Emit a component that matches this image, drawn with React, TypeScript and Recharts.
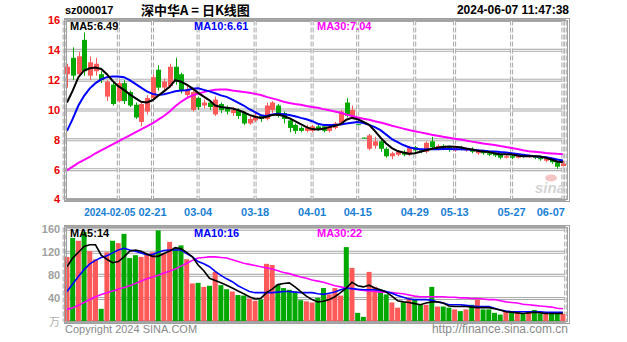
import React from 'react';
import { ComposedChart, Bar, Line, XAxis, YAxis, CartesianGrid, Cell } from 'recharts';

const FONT = '"Liberation Sans", Arial, sans-serif';
const RED = '#ff5a5a';
const GREEN = '#00a800';

// trading days shown in the chart
const dates = [
  '2024-01-23', '2024-01-24', '2024-01-25', '2024-01-26', '2024-01-29', '2024-01-30', '2024-01-31',
  '2024-02-01', '2024-02-02', '2024-02-05', '2024-02-06', '2024-02-07', '2024-02-08', '2024-02-19',
  '2024-02-20', '2024-02-21', '2024-02-22', '2024-02-23', '2024-02-26', '2024-02-27', '2024-02-28',
  '2024-02-29', '2024-03-01', '2024-03-04', '2024-03-05', '2024-03-06', '2024-03-07', '2024-03-08',
  '2024-03-11', '2024-03-12', '2024-03-13', '2024-03-14', '2024-03-15', '2024-03-18', '2024-03-19',
  '2024-03-20', '2024-03-21', '2024-03-22', '2024-03-25', '2024-03-26', '2024-03-27', '2024-03-28',
  '2024-03-29', '2024-04-01', '2024-04-02', '2024-04-03', '2024-04-08', '2024-04-09', '2024-04-10',
  '2024-04-11', '2024-04-12', '2024-04-15', '2024-04-16', '2024-04-17', '2024-04-18', '2024-04-19',
  '2024-04-22', '2024-04-23', '2024-04-24', '2024-04-25', '2024-04-26', '2024-04-29', '2024-04-30',
  '2024-05-06', '2024-05-07', '2024-05-08', '2024-05-09', '2024-05-10', '2024-05-13', '2024-05-14',
  '2024-05-15', '2024-05-16', '2024-05-17', '2024-05-20', '2024-05-21', '2024-05-22', '2024-05-23',
  '2024-05-24', '2024-05-27', '2024-05-28', '2024-05-29', '2024-05-30', '2024-05-31', '2024-06-03',
  '2024-06-04', '2024-06-05', '2024-06-06', '2024-06-07',
];

const open = [
  12.4, 13.5, 12.4, 14.7, 12.3, 12.6, 12.4, 10.9, 11.7, 10.6, 11.8, 11.2, 10.35, 9.2, 9.9, 10.8,
  12.7, 11.5, 11.6, 12.9, 12.4, 11.0, 10.0, 10.8, 10.3, 10.5, 9.7, 10.4, 10.2, 9.8, 10.0, 9.8,
  9.1, 9.3, 9.6, 9.4, 10.0, 10.3, 9.8, 9.3, 9.0, 8.8, 8.6, 8.6, 8.9, 8.9, 8.6, 8.8,
  9.1, 10.5, 9.6, 9.05, 8.15, 7.4, 7.6, 7.9, 7.4, 6.9, 7.0, 7.2, 7.0, 7.5, 7.3, 7.2,
  7.9, 7.4, 7.6, 7.5, 7.3, 7.5, 7.3, 7.4, 7.1, 7.3, 7.1, 7.1, 7.0, 6.8, 6.9, 6.8,
  7.0, 6.85, 6.9, 6.8, 6.6, 6.7, 6.5, 6.25,
];
const close = [
  12.9, 12.3, 13.6, 12.6, 13.2, 13.1, 12.0, 11.9, 10.4, 11.8, 10.6, 10.3, 9.5, 10.4, 10.8, 12.2,
  11.5, 11.9, 12.9, 11.9, 11.3, 11.4, 11.2, 10.2, 10.5, 10.2, 10.7, 10.0, 9.9, 10.0, 9.6, 9.1,
  9.4, 9.6, 9.4, 10.3, 10.5, 9.6, 9.4, 8.8, 8.6, 8.6, 8.8, 8.9, 8.7, 8.6, 8.9, 9.1,
  9.9, 9.6, 10.0, 9.0, 8.1, 8.3, 7.9, 7.4, 6.9, 7.1, 7.2, 7.0, 7.5, 7.3, 7.2, 7.8,
  7.5, 7.6, 7.4, 7.35, 7.5, 7.4, 7.45, 7.2, 7.3, 7.1, 7.0, 6.95, 6.8, 6.9, 6.8, 7.0,
  6.85, 6.95, 6.8, 6.7, 6.75, 6.5, 6.2, 6.4,
];
const high = [
  13.1, 14.2, 13.9, 15.2, 13.6, 13.5, 12.6, 12.0, 11.9, 12.0, 12.0, 11.3, 10.5, 10.5, 11.0, 12.4,
  13.0, 12.1, 13.1, 13.5, 12.5, 11.6, 11.3, 10.9, 10.7, 10.6, 10.9, 10.5, 10.3, 10.2, 10.1, 9.9,
  9.6, 9.8, 9.7, 10.5, 10.6, 10.4, 9.9, 9.4, 9.1, 8.9, 9.0, 9.0, 9.0, 9.0, 9.0, 9.2,
  10.0, 10.8, 10.3, 9.05, 8.15, 8.4, 8.2, 8.0, 7.5, 7.2, 7.3, 7.3, 7.6, 7.6, 7.4, 7.9,
  8.2, 7.7, 7.7, 7.6, 7.6, 7.6, 7.5, 7.5, 7.4, 7.35, 7.2, 7.15, 7.05, 7.0, 7.0, 7.1,
  7.05, 7.0, 6.95, 6.85, 6.8, 6.75, 6.55, 6.6,
];
const low = [
  11.5, 12.0, 12.2, 12.3, 12.0, 12.3, 11.8, 10.6, 10.3, 10.5, 10.4, 10.2, 9.4, 8.9, 9.7, 10.7,
  11.3, 11.2, 11.5, 11.7, 11.1, 10.8, 9.9, 10.0, 10.1, 10.0, 9.6, 9.8, 9.7, 9.6, 9.4, 9.0,
  9.0, 9.2, 9.2, 9.3, 9.8, 9.5, 9.1, 8.5, 8.4, 8.5, 8.5, 8.5, 8.6, 8.5, 8.5, 8.7,
  9.0, 9.5, 9.5, 9.0, 8.1, 7.3, 7.4, 7.2, 6.8, 6.7, 6.9, 6.9, 6.9, 7.2, 7.1, 7.1,
  7.4, 7.3, 7.3, 7.2, 7.2, 7.3, 7.2, 7.1, 7.0, 7.0, 6.9, 6.85, 6.7, 6.75, 6.7, 6.75,
  6.8, 6.8, 6.7, 6.6, 6.5, 6.4, 6.05, 6.2,
];

const ma5 = [
  10.5, 11.3, 12.2, 12.65, 12.8, 12.85, 12.75, 12.4, 11.95, 11.6, 11.35, 11.05, 10.8, 10.55, 10.5, 10.65,
  10.95, 11.25, 11.55, 12.0, 11.9, 11.7, 11.45, 11.15, 10.9, 10.65, 10.3, 10.2, 10.15, 10.1, 10.0, 9.85,
  9.67, 9.55, 9.47, 9.55, 9.67, 9.7, 9.6, 9.45, 9.25, 9.05, 8.85, 8.72, 8.7, 8.75, 8.85, 8.95,
  9.05, 9.35, 9.47, 9.38, 9.2, 9.0, 8.6, 8.15, 7.75, 7.45, 7.25, 7.15, 7.07, 7.1, 7.2, 7.3,
  7.4, 7.47, 7.52, 7.56, 7.54, 7.5, 7.42, 7.35, 7.27, 7.22, 7.18, 7.1, 7.03, 7.03, 7.02, 6.95,
  6.9, 6.9, 6.9, 6.88, 6.8, 6.68, 6.55, 6.49,
];
const ma10 = [
  8.6, 9.4, 10.3, 10.95, 11.45, 11.8, 12.05, 12.2, 12.25, 12.25, 12.2, 12.0, 11.75, 11.5, 11.25, 11.08,
  11.0, 11.05, 11.15, 11.25, 11.3, 11.32, 11.42, 11.45, 11.35, 11.25, 11.12, 10.98, 10.88, 10.7, 10.5, 10.3,
  10.05, 9.85, 9.65, 9.6, 9.7, 9.75, 9.72, 9.67, 9.58, 9.47, 9.38, 9.25, 9.08, 9.0, 9.0, 9.0,
  9.02, 9.1, 9.15, 9.2, 9.12, 9.0, 8.85, 8.65, 8.35, 8.05, 7.85, 7.65, 7.5, 7.42, 7.37, 7.37,
  7.37, 7.37, 7.38, 7.38, 7.37, 7.37, 7.36, 7.33, 7.3, 7.27, 7.24, 7.22, 7.18, 7.15, 7.1, 7.05,
  7.0, 6.95, 6.9, 6.87, 6.83, 6.76, 6.68, 6.61,
];
const ma30 = [
  5.95, 6.2, 6.45, 6.65, 6.85, 7.1, 7.3, 7.5, 7.7, 7.9, 8.1, 8.3, 8.5, 8.7, 8.9, 9.1,
  9.35, 9.6, 9.9, 10.25, 10.55, 10.8, 10.98, 11.1, 11.2, 11.3, 11.36, 11.38, 11.37, 11.3, 11.25, 11.2,
  11.15, 11.08, 11.0, 10.88, 10.78, 10.68, 10.55, 10.47, 10.4, 10.35, 10.27, 10.2, 10.15, 10.06, 9.98, 9.9,
  9.82, 9.7, 9.6, 9.5, 9.42, 9.35, 9.25, 9.16, 9.06, 8.95, 8.85, 8.75, 8.66, 8.58, 8.5, 8.42,
  8.34, 8.27, 8.2, 8.14, 8.08, 8.02, 7.95, 7.88, 7.82, 7.76, 7.71, 7.65, 7.58, 7.52, 7.45, 7.38,
  7.3, 7.24, 7.2, 7.16, 7.12, 7.09, 7.06, 7.04,
];

// volume, 万手
const volume = [
  112, 145, 140, 155, 122, 108, 22, 120, 140, 136, 152, 110, 115, 112, 118, 120,
  158, 118, 138, 128, 132, 108, 66, 67, 60, 62, 86, 63, 56, 52, 46, 45,
  40, 36, 38, 100, 98, 64, 58, 55, 52, 37, 35, 33, 41, 58, 47, 58,
  45, 129, 93, 15, 8, 86, 60, 55, 47, 33, 24, 33, 41, 38, 29, 29,
  60, 26, 26, 24, 21, 18, 21, 29, 38, 21, 21, 15, 12, 17, 17, 18,
  13, 17, 20, 13, 14, 15, 16, 13,
];
const volMa5 = [
  95, 110, 120, 130, 133, 133, 115, 108, 102, 104, 112, 122, 124, 122, 117, 113,
  113, 118, 122, 128, 126, 120, 112, 98, 88, 75, 71, 67, 63, 58, 53, 48,
  43, 39, 40, 50, 56, 64, 66, 67, 60, 52, 44, 38, 34, 35, 38, 43,
  50, 58, 68, 62, 60, 63, 58, 55, 51, 44, 36, 34, 33, 31, 29, 32,
  34, 34, 32, 27, 26, 26, 26, 25, 24, 24, 24, 22, 20, 17, 16, 15,
  14, 15, 16, 15, 14, 14, 14, 14,
];
const volMa10 = [
  52, 65, 78, 90, 100, 106, 111, 114, 119, 124, 127, 124, 122, 119, 116, 116,
  120, 123, 124, 124, 124, 118, 112, 104, 100, 95, 87, 80, 74, 69, 62, 57,
  52, 50, 50, 50, 50, 51, 52, 52, 51, 50, 50, 50, 48, 47, 49, 51,
  55, 58, 57, 56, 55, 55, 55, 54, 52, 49, 45, 42, 39, 38, 38, 38,
  37, 34, 32, 29, 29, 29, 28, 27, 26, 26, 26, 23, 20, 18, 17, 17,
  17, 17, 17, 17, 16, 16, 16, 16,
];
const volMa30 = [
  21, 24, 28, 33, 38, 43, 47, 50, 53, 56, 59, 62, 66, 70, 74, 77,
  80, 84, 87, 91, 96, 101, 106, 110, 111, 112, 112, 111, 110, 107, 104, 101,
  99, 97, 95, 93, 91, 88, 85, 83, 80, 77, 75, 72, 70, 68, 65, 62,
  60, 58, 57, 55, 54, 53, 52, 51, 51, 50, 49, 48, 46, 44, 43, 43,
  43, 43, 43, 42, 42, 41, 41, 40, 40, 39, 38, 38, 36, 34, 33, 32,
  30, 29, 28, 27, 26, 25, 23, 22,
];

const tickDates = [
  '2024-02-05', '2024-02-21', '2024-03-04', '2024-03-18', '2024-04-01',
  '2024-04-15', '2024-04-29', '2024-05-13', '2024-05-27', '2024-06-07',
];
const tickLabels = ['2024-02-05', '02-21', '03-04', '03-18', '04-01', '04-15', '04-29', '05-13', '05-27', '06-07'];
const priceTicks = [4, 6, 8, 10, 12, 14, 16];
const volTicks = [40, 80, 120, 160];

const priceRows = dates.map((d, i) => ({
  date: d, o: open[i], c: close[i], h: high[i], l: low[i],
  ma5: ma5[i], ma10: ma10[i], ma30: ma30[i],
}));
const volRows = dates.map((d, i) => ({
  date: d, vol: volume[i], up: close[i] >= open[i],
  v5: volMa5[i], v10: volMa10[i], v30: volMa30[i],
}));

function Candle(props: any) {
  const { x, y, width, height, payload } = props;
  const { o, c, h, l } = payload;
  const color = c >= o ? RED : GREEN;
  const k = h > l ? height / (h - l) : 0;
  const top = y + (h - Math.max(o, c)) * k;
  const bot = y + (h - Math.min(o, c)) * k;
  const cx = Math.round(x + width / 2) + 0.5;
  return (
    <g>
      <line x1={cx} x2={cx} y1={y} y2={y + height} stroke={color} strokeWidth={1} />
      <rect x={cx - 2.5} y={top} width={5} height={Math.max(1, bot - top)} fill={color} />
    </g>
  );
}

function DateTick(props: any) {
  const { x, y, payload } = props;
  const k = tickDates.indexOf(payload.value);
  const first = k === 0;
  const last = k === tickDates.length - 1;
  // the first (full) date sits left of its gridline so it clears "02-21"
  const tx = first ? x + 17 : last ? x + 2 : x;
  const anchor = first || last ? 'end' : 'middle';
  return (
    <text x={tx} y={y + 14} textAnchor={anchor}
      fill="#1a7fd4" fontSize={first ? 10 : 11} fontWeight="bold" fontFamily={FONT}>
      {tickLabels[k]}
    </text>
  );
}

const gridProps = { stroke: '#a8a8a8', strokeWidth: 3 };

export default function App() {
  const left = 14.15;
  const right = 61.25;
  return (
    <div style={{ position: 'absolute', left: 0, top: 0, width: 627, height: 342, background: '#fff', fontFamily: FONT }}>
      <div style={{ position: 'absolute', left: 0, top: 0 }}>
        <ComposedChart width={627} height={220} data={priceRows}
          margin={{ top: 20.5, right, bottom: 0, left }} barCategoryGap="10%">
          <CartesianGrid horizontal vertical={false} {...gridProps} />
          <CartesianGrid horizontal vertical={false} stroke="#fff" strokeWidth={1} />
          <CartesianGrid horizontal={false} vertical {...gridProps} strokeDasharray="5 2" />
          <CartesianGrid horizontal={false} vertical stroke="#fff" strokeWidth={1} />
          <XAxis dataKey="date" ticks={tickDates} interval={0} height={20.5}
            tickLine={false} axisLine={false} tickSize={0} tick={<DateTick />} />
          <YAxis domain={[4, 16]} ticks={priceTicks} interval={0} width={50}
            tickLine={false} axisLine={false} tickSize={0} tickMargin={4}
            tick={{ fill: '#ee0000', fontSize: 11, fontWeight: 'bold', fontFamily: FONT }} />
          <Bar dataKey={(d: any) => [d.l, d.h]} shape={<Candle />} isAnimationActive={false} />
          <Line dataKey="ma30" stroke="#ff00ff" strokeWidth={2} dot={false} isAnimationActive={false} />
          <Line dataKey="ma10" stroke="#0000ff" strokeWidth={2} dot={false} isAnimationActive={false} />
          <Line dataKey="ma5" stroke="#000" strokeWidth={2} dot={false} isAnimationActive={false} />
        </ComposedChart>
      </div>
      <div style={{ position: 'absolute', left: 0, top: 220 }}>
        <ComposedChart width={627} height={110} data={volRows}
          margin={{ top: 7.5, right, bottom: 8.5, left }} barCategoryGap="6%">
          <CartesianGrid horizontal vertical={false} {...gridProps} />
          <CartesianGrid horizontal vertical={false} stroke="#fff" strokeWidth={1} />
          <CartesianGrid horizontal={false} vertical {...gridProps} strokeDasharray="5 2" />
          <CartesianGrid horizontal={false} vertical stroke="#fff" strokeWidth={1} />
          <XAxis dataKey="date" ticks={tickDates} interval={0} height={0}
            tick={false} tickLine={false} axisLine={false} />
          <YAxis domain={[0, 163]} ticks={volTicks} interval={0} width={50}
            tickLine={false} axisLine={false} tickSize={0} tickMargin={4}
            tick={{ fill: '#a0a0a0', fontSize: 11, fontWeight: 'bold', fontFamily: FONT }} />
          <Bar dataKey="vol" isAnimationActive={false}>
            {volRows.map((r) => (
              <Cell key={r.date} fill={r.up ? RED : GREEN} />
            ))}
          </Bar>
          <Line dataKey="v30" stroke="#ff00ff" strokeWidth={1.6} dot={false} isAnimationActive={false} />
          <Line dataKey="v10" stroke="#0000ff" strokeWidth={1.6} dot={false} isAnimationActive={false} />
          <Line dataKey="v5" stroke="#000" strokeWidth={1.6} dot={false} isAnimationActive={false} />
        </ComposedChart>
      </div>
      <svg width={627} height={342} style={{ position: 'absolute', left: 0, top: 0, pointerEvents: 'none' }}
        fontFamily={FONT}>
        {/* frames */}
        <rect x={64.5} y={18.5} width={505} height={183} fill="none" stroke="#a0a0a0" />
        <rect x={66.5} y={20.5} width={501} height={179} fill="none" stroke="#a0a0a0" />
        <rect x={64.5} y={225.5} width={505} height={98} fill="none" stroke="#a0a0a0" />
        <rect x={66.5} y={227.5} width={501} height={94} fill="none" stroke="#a0a0a0" />

        <text x={65} y={14} fontSize={11} fontWeight="bold" fill="#000">sz000017</text>
        <text x={141} y={15} fontSize={13} fontWeight="bold" fill="#000"
          fontFamily='"Noto Sans CJK SC", sans-serif'>深中华A = 日K线图</text>
        <text x={569} y={14} fontSize={12} fontWeight="bold" fill="#000" textAnchor="end">2024-06-07 11:47:38</text>

        <text x={70} y={30} fontSize={11} fontWeight="bold" fill="#000">MA5:6.49</text>
        <text x={194} y={30} fontSize={11} fontWeight="bold" fill="#0000ff">MA10:6.61</text>
        <text x={317} y={30} fontSize={11} fontWeight="bold" fill="#ff00ff">MA30:7.04</text>

        <text x={70} y={237} fontSize={11} fontWeight="bold" fill="#000">MA5:14</text>
        <text x={194} y={237} fontSize={11} fontWeight="bold" fill="#0000ff">MA10:16</text>
        <text x={317} y={237} fontSize={11} fontWeight="bold" fill="#ff00ff">MA30:22</text>

        <text x={60} y={326} fontSize={11} fill="#b0b0b0" textAnchor="end"
          fontFamily='"Noto Sans CJK SC", sans-serif'>万</text>

        <ellipse cx={551} cy={178} rx={6} ry={3.5} fill="#f4c4c4" />
        <text x={535} y={193} fontSize={15} fontWeight="bold" fontStyle="italic" fill="#d4d4d4">sina</text>

        <text x={65} y={333} fontSize={11} fill="#8a8a8a">Copyright 2024 SINA.COM</text>
        <text x={568} y={333} fontSize={12} fill="#8a8a8a" textAnchor="end">http://finance.sina.com.cn</text>
      </svg>
    </div>
  );
}
